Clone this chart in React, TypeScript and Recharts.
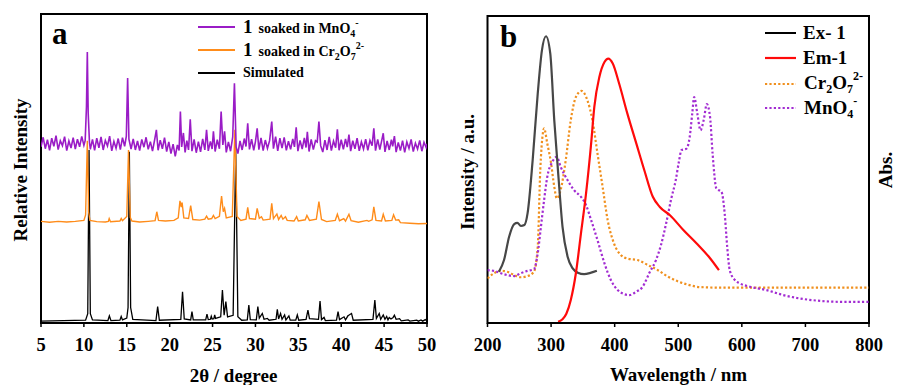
import React from 'react';
import { LineChart, Line, XAxis, YAxis, ReferenceArea } from 'recharts';

// ---------- Panel a: PXRD (2θ, relative intensity, stacked offsets) ----------
const xrdTicks = [5, 10, 15, 20, 25, 30, 35, 40, 45, 50];

const simulatedXRD: [number, number][] = [
  [5, 0.6], [10.2, 0.9], [10.45, 3], [10.6, 56], [10.75, 3], [11.0, 1.0], [12.8, 0.8], [12.97, 2.3], [13.15, 0.8],
  [14.2, 0.9], [14.35, 2.1], [14.5, 1.0], [15.0, 1.6], [15.15, 5], [15.3, 55.4], [15.45, 5], [15.7, 1.2],
  [18.4, 0.8], [18.6, 5.3], [18.8, 0.9], [21.3, 1.2], [21.5, 10.1], [21.7, 1.3], [22.45, 1.0], [22.6, 3.7], [22.75, 1.0],
  [24.2, 1.0], [24.35, 2.9], [24.5, 1.1], [24.75, 1.2], [24.85, 2.2], [24.95, 1.3], [25.15, 1.4], [25.25, 2.6], [25.35, 1.5],
  [25.95, 2.0], [26.15, 10.7], [26.35, 2.5], [26.55, 6.9], [26.75, 2.0], [27.4, 2.5], [27.7, 56], [27.95, 2.0], [28.4, 0.9],
  [29.05, 1.0], [29.23, 5.8], [29.4, 1.1], [30.1, 1.0], [30.28, 5.3], [30.45, 1.6], [30.8, 3.1], [31.0, 1.2], [31.38, 1.5],
  [31.6, 0.9], [32.4, 1.2], [32.55, 4.4], [32.7, 1.3], [32.93, 3.1], [33.1, 1.2], [33.4, 2.6], [33.55, 1.0], [33.9, 2.3],
  [34.05, 0.9], [34.7, 0.9], [34.88, 2.6], [35.05, 0.9], [35.9, 1.2], [36.12, 4.2], [36.3, 1.4], [37.35, 1.2], [37.53, 7.1],
  [37.7, 1.1], [38.0, 1.8], [38.15, 0.8], [39.45, 0.9], [39.63, 3.7], [39.8, 1.1], [40.33, 2.0], [40.5, 1.0], [40.8, 2.4],
  [40.92, 2.6], [41.2, 3.1], [41.4, 0.9], [43.7, 1.2], [43.92, 7.4], [44.1, 1.5], [44.25, 2.2], [44.43, 3.1], [44.6, 1.2],
  [44.9, 2.6], [45.1, 1.2], [45.3, 2.1], [45.45, 1.0], [45.6, 1.8], [45.8, 1.3], [46.05, 1.8], [46.2, 2.5], [46.4, 1.2],
  [46.8, 1.4], [47.0, 0.7], [47.8, 1.0], [48.0, 0.6], [48.8, 0.9], [49.0, 0.6], [49.3, 1.0], [49.5, 0.6], [49.8, 1.1], [50, 0.6],
];

const cr2o7XRD: [number, number][] = [
  [5.0, 32.9], [6.0, 32.6], [7.0, 32.9], [8.0, 32.7], [9.0, 32.9], [10.0, 33.2], [10.2, 35], [10.4, 59], [10.55, 36],
  [10.7, 33.2], [11.5, 32.8], [12.5, 32.7], [12.85, 32.9], [12.95, 33.8], [13.1, 32.8], [14.2, 33.0], [14.35, 33.8],
  [14.5, 33.1], [15.0, 34.5], [15.2, 56], [15.4, 34.2], [15.6, 33.0], [16.5, 32.7], [17.5, 32.9], [18.3, 33.1], [18.5, 36.0],
  [18.7, 33.2], [19.5, 33.0], [20.5, 33.2], [21.0, 34.0], [21.2, 39.5], [21.35, 37.5], [21.45, 39.0], [21.65, 34.0],
  [22.2, 33.8], [22.45, 38.0], [22.7, 33.5], [23.5, 33.3], [24.1, 33.6], [24.3, 34.6], [24.5, 33.6], [24.9, 33.8],
  [25.1, 34.8], [25.3, 33.8], [25.8, 34.5], [26.05, 41.1], [26.25, 36.0], [26.4, 37.1], [26.6, 34.0], [27.3, 34.5],
  [27.6, 62.5], [27.85, 34.5], [28.3, 33.2], [28.9, 33.6], [29.1, 37.4], [29.3, 33.8], [30.0, 33.6], [30.2, 37.1],
  [30.45, 33.9], [30.7, 34.4], [30.9, 33.3], [31.7, 33.6], [31.9, 38.7], [32.1, 33.8], [32.5, 35.3], [32.7, 33.5],
  [33.0, 34.8], [33.2, 33.6], [33.5, 34.4], [33.7, 33.2], [34.5, 33.0], [34.8, 34.4], [35.0, 33.0], [35.8, 33.4],
  [36.0, 34.8], [36.3, 33.2], [37.1, 33.6], [37.4, 39.3], [37.7, 33.5], [38.3, 32.8], [39.3, 33.2], [39.55, 35.2],
  [39.8, 33.1], [40.3, 33.8], [40.5, 33.0], [40.9, 35.2], [41.15, 33.1], [42.0, 32.6], [43.0, 33.2], [43.2, 32.9],
  [43.6, 33.4], [43.8, 37.6], [44.05, 33.2], [44.7, 33.0], [44.9, 35.2], [45.15, 33.0], [45.9, 33.2], [46.1, 35.0],
  [46.35, 33.3], [46.7, 33.4], [46.9, 32.5], [48, 32.3], [49, 32.1], [50, 32.2],
];

const mno4XRD: [number, number][] = [
  [5.0, 57.0], [5.25, 60.1], [5.5, 56.4], [5.75, 59.3], [6.0, 55.9], [6.25, 59.8], [6.5, 57.2], [6.75, 60.6], [7.0, 56.1],
  [7.25, 59.0], [7.5, 57.4], [7.75, 60.3], [8.0, 55.8], [8.25, 58.9], [8.5, 56.6], [8.75, 60.0], [9.0, 56.3], [9.25, 59.5],
  [9.5, 57.0], [9.75, 60.4], [10.0, 57.5], [10.15, 59.0], [10.3, 70.0], [10.4, 87.7], [10.5, 68.0], [10.65, 58.5],
  [10.75, 56.2], [11.0, 59.4], [11.25, 55.9], [11.5, 59.8], [11.75, 56.7], [12.0, 60.2], [12.25, 56.0], [12.5, 59.1],
  [12.75, 57.3], [13.0, 60.5], [13.25, 55.7], [13.5, 58.8], [13.75, 56.5], [14.0, 59.7], [14.25, 56.1], [14.5, 60.0],
  [14.75, 57.2], [14.95, 60.5], [15.1, 79.3], [15.25, 59.5], [15.5, 56.3], [15.75, 59.6], [16.0, 56.0], [16.25, 58.9],
  [16.5, 55.8], [16.75, 59.4], [17.0, 56.9], [17.25, 60.1], [17.5, 56.2], [17.75, 58.7], [18.0, 55.6], [18.25, 59.3],
  [18.45, 62.5], [18.65, 55.9], [18.9, 59.2], [19.15, 56.4], [19.4, 60.0], [19.65, 55.5], [19.9, 58.6], [20.15, 54.8],
  [20.4, 57.9], [20.65, 53.9], [20.9, 57.6], [21.1, 55.8], [21.25, 68.4], [21.4, 57.0], [21.6, 61.5], [21.8, 55.2],
  [22.0, 59.0], [22.2, 56.0], [22.4, 65.9], [22.6, 55.6], [22.85, 59.4], [23.1, 55.1], [23.35, 58.7], [23.6, 55.4],
  [23.85, 59.6], [24.1, 56.0], [24.3, 62.5], [24.5, 55.7], [24.75, 58.8], [24.95, 56.3], [25.1, 62.0], [25.3, 55.5],
  [25.55, 59.3], [25.8, 56.4], [26.0, 68.4], [26.2, 57.6], [26.4, 62.0], [26.6, 55.2], [26.85, 58.6], [27.1, 55.6],
  [27.35, 60.2], [27.55, 77.6], [27.75, 57.0], [27.95, 54.8], [28.2, 58.9], [28.45, 56.0], [28.7, 59.7], [28.9, 57.1],
  [29.1, 64.6], [29.3, 56.2], [29.55, 59.5], [29.8, 55.9], [30.0, 58.7], [30.2, 63.0], [30.4, 56.1], [30.65, 59.9],
  [30.9, 55.8], [31.15, 59.2], [31.4, 56.5], [31.65, 59.0], [31.9, 65.2], [32.1, 56.4], [32.35, 60.3], [32.6, 55.7],
  [32.85, 59.8], [33.1, 56.6], [33.35, 60.1], [33.6, 55.9], [33.85, 58.8], [34.1, 56.2], [34.35, 59.6], [34.55, 57.0],
  [34.75, 63.3], [34.95, 55.6], [35.2, 59.1], [35.45, 56.3], [35.7, 59.9], [35.9, 56.8], [36.05, 61.9], [36.25, 55.5],
  [36.5, 59.4], [36.75, 56.1], [37.0, 59.0], [37.2, 58.6], [37.4, 65.2], [37.6, 57.4], [37.85, 55.3], [38.1, 59.2],
  [38.35, 56.0], [38.6, 60.2], [38.85, 55.8], [39.1, 58.9], [39.35, 56.7], [39.55, 62.7], [39.75, 55.9], [40.0, 59.3],
  [40.25, 56.2], [40.5, 59.6], [40.7, 56.9], [40.9, 61.0], [41.1, 55.6], [41.35, 59.0], [41.6, 56.4], [41.85, 59.8],
  [42.1, 55.7], [42.35, 58.6], [42.6, 56.3], [42.85, 59.5], [43.1, 55.9], [43.35, 59.1], [43.6, 57.4], [43.8, 63.0],
  [44.0, 55.8], [44.25, 59.4], [44.5, 56.1], [44.7, 58.8], [44.9, 61.4], [45.1, 55.4], [45.35, 58.9], [45.6, 56.0],
  [45.85, 59.3], [46.0, 57.2], [46.2, 60.5], [46.4, 55.3], [46.65, 58.4], [46.9, 55.8], [47.15, 59.0], [47.4, 55.2],
  [47.65, 58.6], [47.9, 56.5], [48.15, 59.4], [48.4, 55.5], [48.65, 58.2], [48.9, 56.3], [49.15, 59.1], [49.4, 55.6],
  [49.65, 58.5], [49.9, 56.8], [50.0, 58.0],
];

// ---------- Panel b: spectra (wavelength nm, intensity a.u.) ----------
const wlTicks = [200, 300, 400, 500, 600, 700, 800];

const ex1: [number, number][] = [
  [218, 16.7], [226, 20.5], [234, 28.1], [242, 32.2], [247, 32.6], [252.5, 31.6], [258, 31.9], [263, 35.7], [271, 53.0],
  [279, 74.7], [285.6, 88.8], [292, 93.4], [298.7, 87.8], [305, 66.1], [312, 46.5], [318, 31.3], [326, 21.6], [334, 17.8],
  [342, 16.4], [352, 15.9], [363, 16.4], [372, 17.0],
];

const em1: [number, number][] = [
  [311, 0.4], [318, 1.2], [324, 3.0], [331, 7.5], [339, 16.2], [347, 29.2], [355, 42.2], [363, 58.5], [368, 70.4],
  [376, 80.2], [384, 85.0], [390, 86.1], [397, 84.5], [407, 78.0], [420, 68.2], [434, 58.5], [447, 49.5], [460, 41.1],
  [471, 37.8], [487, 35.1], [508, 30.3], [529, 25.9], [550, 21.1], [564, 17.2],
];

const cr2o7Abs: [number, number][] = [
  [200, 14.5], [210, 16.2], [221, 17.0], [231, 16.7], [242, 15.6], [252, 14.9], [263, 15.3], [273, 16.7], [279, 24.8],
  [283, 49.8], [287, 61.7], [289, 63.4], [294, 58.5], [300, 52.0], [305, 44.4], [309, 40.6], [315, 43.3], [323, 53.0],
  [331, 66.1], [339, 73.6], [348, 75.6], [357, 72.6], [365, 66.1], [373, 55.2], [381, 44.4], [389, 33.5], [399, 25.9],
  [410, 22.1], [420, 21.0], [436, 20.5], [452, 18.9], [468, 17.2], [483, 15.2], [499, 13.6], [515, 12.5], [534, 11.7],
  [570, 11.5], [800, 11.5],
];

const mno4Abs: [number, number][] = [
  [200, 17.2], [210, 17.0], [221, 16.2], [231, 15.6], [242, 15.3], [252, 16.2], [263, 17.0], [273, 17.5], [279, 22.7],
  [284, 31.3], [289, 40.0], [294, 47.6], [302, 52.5], [309, 54.1], [315, 50.9], [326, 46.5], [336, 43.3], [347, 41.1],
  [355, 38.4], [363, 33.5], [373, 27.0], [384, 19.4], [394, 14.0], [405, 10.7], [415, 9.4], [423, 9.1], [434, 10.2],
  [444, 11.8], [455, 16.5], [465, 20.5], [473, 25.5], [481, 32.5], [489, 40.5], [496, 46.5], [501, 52.5], [505, 56.3],
  [513, 56.8], [518, 60.6], [522, 68.2], [525, 73.6], [530, 68.2], [535, 62.8], [540, 66.1], [545, 71.3], [550, 67.1],
  [554, 55.2], [560, 43.8], [568, 42.7], [573, 35.7], [577, 24.8], [581, 17.2], [589, 14.0], [597, 12.9], [613, 11.8],
  [639, 10.7], [665, 9.1], [691, 8.0], [718, 7.3], [754, 6.9], [800, 6.9],
];

const toPts = (arr: [number, number][]) => arr.map(([x, y]) => ({ x, y }));

const FONT = "'Liberation Serif', 'Times New Roman', serif";
const PURPLE_A = '#9A1CC6';
const ORANGE_A = '#FF8C1A';
const GRAY = '#474747';
const RED = '#FF0A0A';
const ORANGE_B = '#F0901E';
const PURPLE_B = '#A22CD2';

const tickStyle = { fontSize: 18.5, fontWeight: 'bold', fill: '#000', fontFamily: FONT };

export default function App() {
  return (
    <div style={{ position: 'absolute', left: 0, top: 0, width: 897, height: 385, background: '#fff' }}>
      <div style={{ position: 'absolute', left: 0, top: 0 }}>
        <LineChart width={450} height={385} margin={{ top: 14, right: 23, left: 41, bottom: 32 }}>
          <XAxis
            type="number"
            dataKey="x"
            domain={[5, 50]}
            ticks={xrdTicks}
            interval={0}
            allowDataOverflow
            tick={tickStyle}
            tickSize={4}
            tickMargin={11}
            height={30}
            axisLine={{ stroke: '#000', strokeWidth: 2 }}
            tickLine={{ stroke: '#000', strokeWidth: 1.5 }}
          />
          <YAxis type="number" hide domain={[0, 100]} allowDataOverflow />
          <ReferenceArea x1={5} x2={50} y1={0} y2={100} fill="none" fillOpacity={0} stroke="#000" strokeWidth={2} ifOverflow="visible" />
          <Line data={toPts(simulatedXRD)} dataKey="y" type="linear" stroke="#000" strokeWidth={1.3} dot={false} isAnimationActive={false} />
          <Line data={toPts(cr2o7XRD)} dataKey="y" type="linear" stroke={ORANGE_A} strokeWidth={1.4} dot={false} isAnimationActive={false} />
          <Line data={toPts(mno4XRD)} dataKey="y" type="linear" stroke={PURPLE_A} strokeWidth={1.6} dot={false} isAnimationActive={false} />
        </LineChart>
      </div>
      <div style={{ position: 'absolute', left: 450, top: 0 }}>
        <LineChart width={447} height={385} margin={{ top: 16, right: 28, left: 37.5, bottom: 32 }}>
          <XAxis
            type="number"
            dataKey="x"
            domain={[200, 800]}
            ticks={wlTicks}
            interval={0}
            allowDataOverflow
            tick={tickStyle}
            tickSize={4}
            tickMargin={11}
            height={30}
            axisLine={{ stroke: '#000', strokeWidth: 2 }}
            tickLine={{ stroke: '#000', strokeWidth: 1.5 }}
          />
          <YAxis type="number" hide domain={[0, 100]} allowDataOverflow />
          <ReferenceArea x1={200} x2={800} y1={0} y2={100} fill="none" fillOpacity={0} stroke="#000" strokeWidth={2} ifOverflow="visible" />
          <Line data={toPts(cr2o7Abs)} dataKey="y" type="monotone" stroke={ORANGE_B} strokeWidth={2.2} strokeDasharray="2.2 2.2" dot={false} isAnimationActive={false} />
          <Line data={toPts(mno4Abs)} dataKey="y" type="monotone" stroke={PURPLE_B} strokeWidth={2.2} strokeDasharray="2.2 2.2" dot={false} isAnimationActive={false} />
          <Line data={toPts(ex1)} dataKey="y" type="monotone" stroke={GRAY} strokeWidth={2.2} dot={false} isAnimationActive={false} />
          <Line data={toPts(em1)} dataKey="y" type="monotone" stroke={RED} strokeWidth={2.2} dot={false} isAnimationActive={false} />
        </LineChart>
      </div>
      <svg width={897} height={385} style={{ position: 'absolute', left: 0, top: 0, pointerEvents: 'none' }} fontFamily={FONT} fontWeight="bold">
        {/* panel a */}
        <text x={52} y={44} fontSize={31}>a</text>
        <line x1={198} x2={235} y1={27} y2={27} stroke={PURPLE_A} strokeWidth={2} />
        <text x={243} y={33}>
          <tspan fontSize={19}>1</tspan>
          <tspan fontSize={14} dx={6}>soaked in MnO</tspan>
          <tspan fontSize={10} dy={4}>4</tspan>
          <tspan fontSize={10} dy={-11}>-</tspan>
        </text>
        <line x1={198} x2={235} y1={50} y2={50} stroke={ORANGE_A} strokeWidth={2} />
        <text x={243} y={56}>
          <tspan fontSize={19}>1</tspan>
          <tspan fontSize={14} dx={6}>soaked in Cr</tspan>
          <tspan fontSize={10} dy={4}>2</tspan>
          <tspan fontSize={14} dy={-4}>O</tspan>
          <tspan fontSize={10} dy={4}>7</tspan>
          <tspan fontSize={10} dy={-11}>2-</tspan>
        </text>
        <line x1={198} x2={235} y1={73} y2={73} stroke="#000" strokeWidth={2} />
        <text x={243} y={77} fontSize={14}>Simulated</text>
        <text x={233.5} y={382} fontSize={19} textAnchor="middle">2θ / degree</text>
        <text transform="translate(27,170) rotate(-90)" fontSize={19} textAnchor="middle">Relative Intensity</text>

        {/* panel b */}
        <text x={500} y={47} fontSize={31}>b</text>
        <line x1={765} x2={796} y1={33} y2={33} stroke="#000" strokeWidth={2} />
        <text x={803} y={39} fontSize={19}>Ex- 1</text>
        <line x1={765} x2={796} y1={58} y2={58} stroke={RED} strokeWidth={2.2} />
        <text x={803} y={64} fontSize={19}>Em-1</text>
        <line x1={765} x2={796} y1={84} y2={84} stroke={ORANGE_B} strokeWidth={2.2} strokeDasharray="2.2 2.2" />
        <text x={804} y={89}>
          <tspan fontSize={19}>Cr</tspan>
          <tspan fontSize={12} dy={4}>2</tspan>
          <tspan fontSize={19} dy={-4}>O</tspan>
          <tspan fontSize={12} dy={4}>7</tspan>
          <tspan fontSize={12} dy={-13}>2-</tspan>
        </text>
        <line x1={765} x2={796} y1={108} y2={108} stroke={PURPLE_B} strokeWidth={2.2} strokeDasharray="2.2 2.2" />
        <text x={804} y={114}>
          <tspan fontSize={19}>MnO</tspan>
          <tspan fontSize={12} dy={4}>4</tspan>
          <tspan fontSize={12} dy={-13}>-</tspan>
        </text>
        <text x={678.5} y={381} fontSize={19} textAnchor="middle">Wavelength / nm</text>
        <text transform="translate(474,172) rotate(-90)" fontSize={19} textAnchor="middle">Intensity / a.u.</text>
        <text transform="translate(892,170) rotate(-90)" fontSize={19} textAnchor="middle">Abs.</text>
      </svg>
    </div>
  );
}
